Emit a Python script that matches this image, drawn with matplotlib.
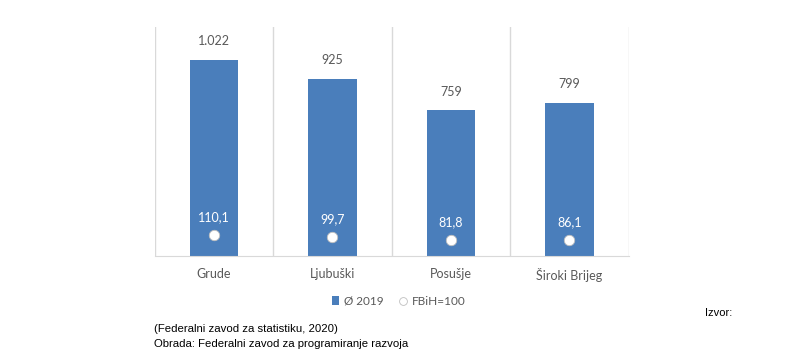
import matplotlib.pyplot as plt
import numpy as np

categories = ['Grude', 'Ljubuški', 'Posušje', 'Široki Brijeg']
avg_2019 = [1022, 925, 759, 799]
avg_labels = ['1.022', '925', '759', '799']
fbih_index = [110.1, 99.7, 81.8, 86.1]
fbih_labels = ['110,1', '99,7', '81,8', '86,1']

plt.rcParams['font.family'] = ['Lato', 'DejaVu Sans']
txt = '#595959'
blue = '#4a7ebb'
grid = '#d9d9d9'

fig = plt.figure(figsize=(8.1, 3.59), dpi=100)
ax = fig.add_axes([0.191, 0.287, 0.585, 0.638])
x = np.arange(len(categories))

ax.bar(x, avg_2019, width=0.41, color=blue, zorder=2, label='Ø 2019')
for xi, v, s in zip(x, avg_2019, avg_labels):
    ax.annotate(s, (xi, v), xytext=(0, 9), textcoords='offset points',
                ha='center', va='bottom', fontsize=9, color=txt)

ax.set_xlim(-0.5, len(categories) - 0.5)
ax.set_ylim(0, 1194)
for b in np.arange(-0.5, len(categories), 1.0):
    ax.axvline(b, color=grid, lw=1, zorder=1)
for s in ['top', 'left', 'right']:
    ax.spines[s].set_visible(False)
ax.spines['bottom'].set_color(grid)
ax.set_yticks([])
ax.set_xticks(x)
ax.set_xticklabels(categories, fontsize=9, color=txt)
ax.tick_params(axis='x', length=0, pad=8.5)

ax2 = ax.twinx()
ax2.set_ylim(0, 1200)
ax2.plot(x, fbih_index, 'o', ms=7.5, mfc='white', mec='#bfbfbf', mew=0.6,
         zorder=3, label='FBiH=100')
for xi, v, s in zip(x, fbih_index, fbih_labels):
    ax2.annotate(s, (xi, v), xytext=(0, 8.5), textcoords='offset points',
                 ha='center', va='bottom', fontsize=9, color='white')
ax2.set_yticks([])
for s in ax2.spines.values():
    s.set_visible(False)

h1, l1 = ax.get_legend_handles_labels()
h2, l2 = ax2.get_legend_handles_labels()
fig.legend(h1 + h2, l1 + l2, loc='center', bbox_to_anchor=(0.492, 0.161),
           ncol=2, frameon=False, fontsize=8.5, labelcolor=txt,
           handlelength=0.6, handletextpad=0.4, columnspacing=1.4,
           markerscale=0.75)

foot = ['Liberation Sans', 'DejaVu Sans']
fig.text(0.870, 0.128, 'Izvor:', fontsize=8, family=foot, ha='left', va='center')
fig.text(0.19, 0.084, '(Federalni zavod za statistiku, 2020)', fontsize=8.2,
         family=foot, ha='left', va='center')
fig.text(0.19, 0.042, 'Obrada: Federalni zavod za programiranje razvoja',
         fontsize=8.2, family=foot, ha='left', va='center')

plt.savefig('out.png', dpi=100, facecolor='w')
plt.close()
